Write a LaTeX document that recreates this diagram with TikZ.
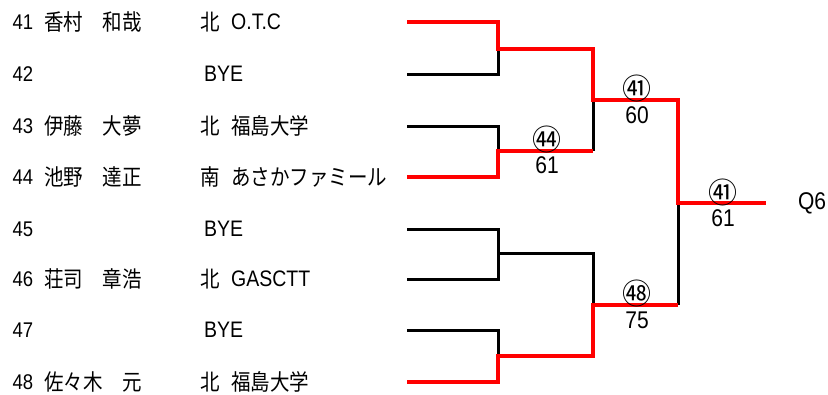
\documentclass[tikz,border=0pt]{standalone}
\usepackage{fontspec}
\usepackage{graphicx}
\setmainfont{Liberation Sans}
\newfontfamily\jp{Noto Sans CJK JP}
\newcommand{\vst}[1]{\scalebox{1}[1.15]{#1}}
\begin{document}
\begin{tikzpicture}[x=1pt,y=-1pt,
  win/.style={draw=red, line width=4.5pt},
  lose/.style={draw=black, line width=3pt},
  numtxt/.style={inner sep=0pt, anchor=west, font=\fontsize{18.5}{18}\selectfont},
  nametxt/.style={inner sep=0pt, anchor=west, font=\jp\fontsize{19.5}{19}\selectfont},
  teamjp/.style={inner sep=0pt, anchor=west, font=\jp\fontsize{19.5}{20}\selectfont},
  teamlat/.style={inner sep=0pt, anchor=west, font=\fontsize{19.5}{20}\selectfont},
  score/.style={inner sep=0pt, font=\fontsize{21}{21}\selectfont},
  circ/.style={inner sep=0pt, font=\jp\fontsize{29}{29}\selectfont}]
\useasboundingbox (0,0) rectangle (828,394);
% player rows
\foreach \n/\y in {41/22,42/74,43/126,44/177,45/229,46/279,47/330,48/382}{
  \node[numtxt] (num\n) at (12.5,\y) {\vst{\n}};
  \coordinate (s\n) at (407,\y);
}
\node[nametxt] (name41) at (44,22)  {\vst{香村　和哉}};
\node[nametxt] (name43) at (44,126) {\vst{伊藤　大夢}};
\node[nametxt] (name44) at (44,177) {\vst{池野　達正}};
\node[nametxt] (name46) at (44,279) {\vst{荘司　章浩}};
\node[nametxt] (name48) at (44,382) {\vst{佐々木　元}};
\node[nametxt] (pre41) at (200,22)  {\vst{北}};
\node[nametxt] (pre43) at (200,126) {\vst{北}};
\node[nametxt] (pre44) at (200,177) {\vst{南}};
\node[nametxt] (pre46) at (200,279) {\vst{北}};
\node[nametxt] (pre48) at (200,382) {\vst{北}};
\node[teamlat] (team41) at (231,22)  {\vst{O.T.C}};
\node[teamjp]  (team43) at (231,126) {\vst{福島大学}};
\node[teamjp]  (team44) at (231,177) {\vst{あさかファミール}};
\node[teamlat] (team46) at (231,279) {\vst{GASCTT}};
\node[teamjp]  (team48) at (231,382) {\vst{福島大学}};
\node[teamlat] (bye42) at (204,74)  {\vst{BYE}};
\node[teamlat] (bye45) at (204,229) {\vst{BYE}};
\node[teamlat] (bye47) at (204,330) {\vst{BYE}};
% junctions
\coordinate (j1a) at (498,49);
\coordinate (j1b) at (498,151);
\coordinate (j1c) at (498,253);
\coordinate (j1d) at (498,356);
\coordinate (v1) at (593,151);
\coordinate (j2a) at (593,100);
\coordinate (j2b) at (593,305);
\coordinate (v2) at (678,305);
\coordinate (j3) at (678,203);
\coordinate (fin) at (766,203);
% black lines
\draw[lose] (s42) -| (j1a);
\draw[lose] (s43) -| (j1b);
\draw[lose] (s45) -| (j1c) |- (s46);
\draw[lose] (j1c) -| (j2b);
\draw[lose] (s47) -| (j1d);
\draw[lose] (v1) -- (j2a);
\draw[lose] (v2) -- (j3);
% red lines
\draw[win] (s41) -| (j1a) -| (j2a) -| (j3) -- (fin);
\draw[win] (s44) -| (j1b) -- (v1);
\draw[win] (s48) -| (j1d) -| (j2b) -- (v2);
% scores
\node[circ]  (w1)  at (547,139) {㊹};
\node[score] (sc1) at (547,165) {\vst{61}};
\node[circ]  (w2)  at (637,88)  {㊶};
\node[score] (sc2) at (637,115) {\vst{60}};
\node[circ]  (w3)  at (637,293) {㊽};
\node[score] (sc3) at (637,320) {\vst{75}};
\node[circ]  (w4)  at (723,192) {㊶};
\node[score] (sc4) at (723,218) {\vst{61}};
\node[score] (q6)  at (812,203) {\vst{Q6}};
\end{tikzpicture}
\end{document}
